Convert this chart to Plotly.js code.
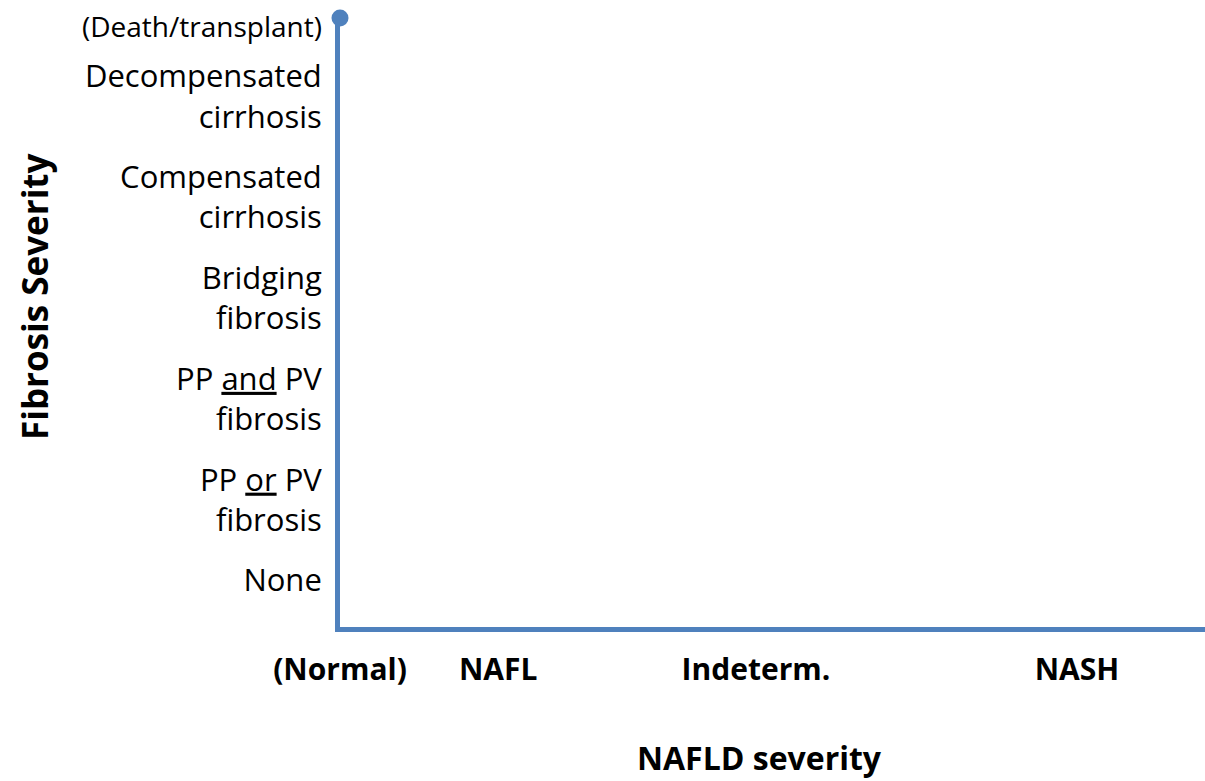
<!DOCTYPE html>
<html><head><meta charset="utf-8">
<script src="https://cdn.plot.ly/plotly-3.0.1.min.js"></script>
<style>html,body{margin:0;padding:0;background:#fff}#chart{width:1205px;height:781px}</style>
</head><body><div id="chart"></div>
<script>
// Fibrosis levels (y) and NAFLD categories (x)
const fibrosisLevels = [0, 1, 2, 3, 4, 5];
const fibrosisLabels = ["None<br> ", "PP <u>or</u> PV<br>fibrosis", "PP <u>and</u> PV<br>fibrosis", "Bridging<br>fibrosis", "Compensated<br>cirrhosis", "Decompensated<br>cirrhosis"];
const endpointLabel = ["(Death/transplant)"];
const endpointLevel = [5.78];
const naflPositions = [0, 1, 2.63, 4.66];
const naflLabels = ["(Normal)", "NAFL", "Indeterm.", "NASH"];
const xTitle = "NAFLD severity";
const yTitle = "Fibrosis Severity";

const blue = "#4F81BD";
const font = "'Open Sans', Lato, sans-serif";

const traces = [{
  x: [0], y: endpointLevel, mode: "markers", type: "scatter",
  marker: {size: 17, color: blue}, cliponaxis: false, hoverinfo: "skip"
}];

const layout = {
  width: 1205, height: 781,
  margin: {l: 340, r: 0, t: 18, b: 154},
  paper_bgcolor: "#fff", plot_bgcolor: "#fff",
  showlegend: false,
  xaxis: {
    range: [0, 5.47], showgrid: false, zeroline: false,
    showline: true, linewidth: 5, linecolor: blue,
    tickvals: naflPositions, ticktext: naflLabels, ticks: "",
    ticklabelstandoff: 12,
    tickfont: {family: font, size: 30, color: "#000", weight: "bold"}
  },
  yaxis: {
    range: [-0.26, 5.78], showgrid: false, zeroline: false,
    showline: true, linewidth: 5, linecolor: blue,
    tickvals: fibrosisLevels, ticktext: fibrosisLabels, ticks: "",
    ticklabelstandoff: 7,
    tickfont: {family: font, size: 31, color: "#000"}
  },
  annotations: [
    {text: endpointLabel[0], x: naflPositions[0], y: endpointLevel[0], xref: "x", yref: "y",
     xanchor: "right", yanchor: "middle", xshift: -16, yshift: -8, showarrow: false,
     font: {family: font, size: 28, color: "#000"}},
    {text: yTitle, xref: "paper", yref: "paper", x: -0.3526, y: 0.542, textangle: -90,
     xanchor: "center", yanchor: "middle", showarrow: false,
     font: {family: font, size: 35, color: "#000", weight: "bold"}},
    {text: xTitle, xref: "paper", yref: "paper", x: 0.4855, y: -0.2135,
     xanchor: "center", yanchor: "middle", showarrow: false, borderpad: 0,
     font: {family: font, size: 32, color: "#000", weight: "bold"}}
  ]
};
Plotly.newPlot("chart", traces, layout, {displayModeBar: false, staticPlot: true});
</script></body></html>
